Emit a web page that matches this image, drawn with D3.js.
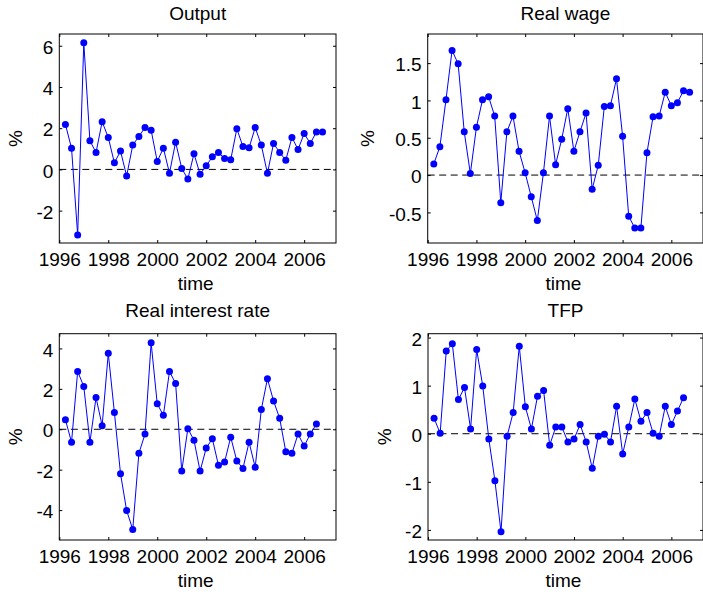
<!DOCTYPE html>
<head>
  <meta charset="utf-8">
  <style>
    body { margin: 0; background: #fff; }
    svg { display: block; font-family: "Liberation Sans", Arial, sans-serif; }
  </style>
  <script src="https://cdn.jsdelivr.net/npm/d3@7"></script>
</head>
<body>
<svg id=chart width="703" height="596"></svg>

<script>
// quarterly dates
const quarters = [
  1996.25, 1996.5, 1996.75, 1997, 1997.25, 1997.5, 1997.75, 1998, 1998.25, 1998.5, 1998.75,
  1999, 1999.25, 1999.5, 1999.75, 2000, 2000.25, 2000.5, 2000.75, 2001, 2001.25, 2001.5, 2001.75,
  2002, 2002.25, 2002.5, 2002.75, 2003, 2003.25, 2003.5, 2003.75, 2004, 2004.25, 2004.5, 2004.75,
  2005, 2005.25, 2005.5, 2005.75, 2006, 2006.25, 2006.5, 2006.75
]

// series, in %
const output = [
  2.18, 1.03, -3.18, 6.15, 1.39, 0.82, 2.31, 1.55, 0.32, 0.89, -0.32,
  1.18, 1.6, 2.03, 1.9, 0.39, 1.03, -0.18, 1.32, 0.05, -0.47, 0.76, -0.23,
  0.18, 0.61, 0.82, 0.53, 0.47, 1.97, 1.11, 1.05, 2.03, 1.18, -0.19, 1.26,
  0.82, 0.45, 1.55, 0.97, 1.74, 1.26, 1.82, 1.82
]
const real_wage = [
  0.15, 0.38, 1.01, 1.67, 1.49, 0.58, 0.02, 0.64, 1.01, 1.05, 0.79,
  -0.37, 0.58, 0.79, 0.32, 0.03, -0.29, -0.61, 0.03, 0.79, 0.14, 0.48, 0.89,
  0.32, 0.58, 0.83, -0.19, 0.13, 0.92, 0.93, 1.29, 0.52, -0.55, -0.71, -0.71,
  0.3, 0.78, 0.79, 1.11, 0.93, 0.97, 1.13, 1.11
]
const real_interest = [
  0.47, -0.64, 2.86, 2.12, -0.64, 1.57, 0.18, 3.76, 0.83, -2.2, -4.02,
  -4.96, -1.19, -0.24, 4.28, 1.26, 0.69, 2.86, 2.27, -2.07, 0.03, -0.54, -2.07,
  -0.93, -0.47, -1.78, -1.62, -0.39, -1.57, -1.94, -0.64, -1.88, 0.98, 2.5, 1.4,
  0.54, -1.11, -1.19, -0.24, -0.83, -0.24, 0.26
]
const tfp = [
  0.32, 0.01, 1.72, 1.87, 0.71, 0.96, 0.1, 1.75, 0.99, -0.11, -0.98,
  -2.04, -0.05, 0.44, 1.82, 0.56, 0.1, 0.78, 0.9, -0.24, 0.14, 0.14, -0.17,
  -0.11, 0.19, -0.17, -0.72, -0.05, -0.01, -0.17, 0.57, -0.42, 0.14, 0.72, 0.26,
  0.44, 0.01, -0.05, 0.57, 0.19, 0.47, 0.75
]

const year_ticks = [1996, 1998, 2000, 2002, 2004, 2006]
const xlim = [1996, 2007.3]

// layout of the four axes
const panels = [
  { title: 'Output', values: output, box: [59.3, 336, 34, 243], ylim: [-3.57, 6.57],
    yticks: [-2, 0, 2, 4, 6], ylab_x: 15, title_y: 20 },
  { title: 'Real wage', values: real_wage, box: [427.7, 703, 34, 243], ylim: [-0.91, 1.89],
    yticks: [-0.5, 0, 0.5, 1, 1.5], ylab_x: 367, title_y: 20 },
  { title: 'Real interest rate', values: real_interest, box: [59.3, 336, 333.7, 540], ylim: [-5.48, 4.73],
    yticks: [-4, -2, 0, 2, 4], ylab_x: 15, title_y: 317 },
  { title: 'TFP', values: tfp, box: [428, 703, 333.7, 540], ylim: [-2.21, 2.08],
    yticks: [-2, -1, 0, 1, 2], ylab_x: 384, title_y: 317 },
]

const svg = d3.select('#chart')
const fs = 19

panels.forEach(p => {
  const [x0, x1, y0, y1] = p.box
  const x = d3.scaleLinear().domain(xlim).range([x0, x1])
  const y = d3.scaleLinear().domain(p.ylim).range([y1, y0])
  const g = svg.append('g')

  // zero line
  g.append('line')
    .attr('x1', x0).attr('x2', x1)
    .attr('y1', y(0)).attr('y2', y(0))
    .attr('stroke', '#000').attr('stroke-width', 1)
    .attr('stroke-dasharray', '7,4.5')

  // series
  const pts = p.values.map((v, i) => [quarters[i], v])
  g.append('path')
    .datum(pts)
    .attr('fill', 'none')
    .attr('stroke', '#0000ff')
    .attr('stroke-width', 1)
    .attr('d', d3.line().x(d => x(d[0])).y(d => y(d[1])))
  g.selectAll('circle')
    .data(pts)
    .join('circle')
    .attr('cx', d => x(d[0]))
    .attr('cy', d => y(d[1]))
    .attr('r', 3.5)
    .attr('fill', '#0000ff')

  // axes, ticks inside like matlab
  const style_axis = a => {
    a.select('.domain').remove()
    a.selectAll('line').attr('stroke', '#000')
    a.selectAll('text').attr('fill', '#000').style('font-size', fs + 'px')
  }
  g.append('g').attr('transform', `translate(0,${y1})`)
    .call(d3.axisBottom(x).tickValues(year_ticks).tickSizeInner(-3).tickSizeOuter(0)
      .tickPadding(10).tickFormat(d3.format('d')))
    .call(style_axis)
  g.append('g').attr('transform', `translate(0,${y0})`)
    .call(d3.axisTop(x).tickValues(year_ticks).tickSizeInner(-3).tickSizeOuter(0).tickFormat(''))
    .call(style_axis)
  g.append('g').attr('transform', `translate(${x0},0)`)
    .call(d3.axisLeft(y).tickValues(p.yticks).tickSizeInner(-3).tickSizeOuter(0)
      .tickPadding(6).tickFormat(d => String(d)))
    .call(style_axis)
    .selectAll('text').attr('dy', '0.4em')
  g.append('g').attr('transform', `translate(${x1},0)`)
    .call(d3.axisRight(y).tickValues(p.yticks).tickSizeInner(-3).tickSizeOuter(0).tickFormat(''))
    .call(style_axis)

  // box
  g.append('rect')
    .attr('x', x0).attr('y', y0)
    .attr('width', x1 - x0).attr('height', y1 - y0)
    .attr('fill', 'none').attr('stroke', '#000').attr('stroke-width', 1)

  // labels
  const cx = (x0 + x1) / 2
  g.append('text')
    .attr('x', cx).attr('y', p.title_y)
    .attr('text-anchor', 'middle')
    .style('font-size', fs + 'px').attr('fill', '#000')
    .text(p.title)
  g.append('text')
    .attr('x', cx - 2).attr('y', y1 + 47)
    .attr('text-anchor', 'middle')
    .style('font-size', fs + 'px').attr('fill', '#000')
    .text('time')
  g.append('text')
    .attr('transform', `translate(${p.ylab_x},${(y0 + y1) / 2}) rotate(-90)`)
    .attr('text-anchor', 'middle')
    .attr('dy', '0.35em')
    .style('font-size', fs + 'px').attr('fill', '#000')
    .text('%')
})
</script>
</body>
